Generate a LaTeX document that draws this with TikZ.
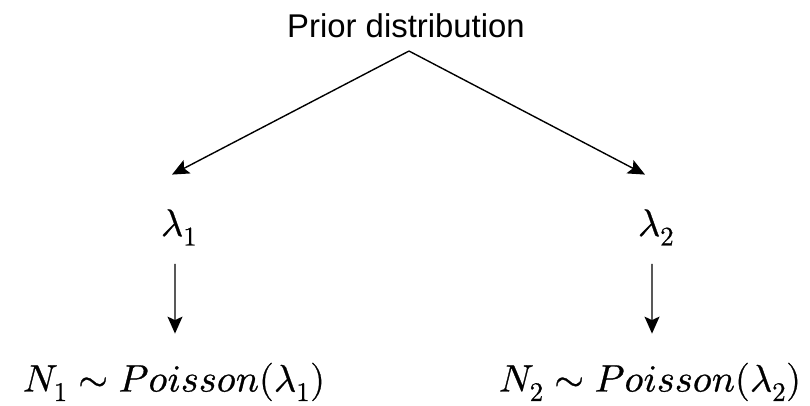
\documentclass[tikz,border=0pt]{standalone}
\usepackage{fontspec}
\usepackage{unicode-math}
\setmathfont{latinmodern-math.otf}[FakeBold=0.7]
\newfontfamily\priorfont{Liberation Sans}
\usetikzlibrary{arrows.meta}
\begin{document}
\begin{tikzpicture}[x=1bp,y=-1bp,
  lbl/.style={inner sep=0pt, anchor=base, font=\fontsize{38.5}{46}\selectfont},
  arr/.style={-{Stealth[length=17bp,width=15bp,inset=3.5bp]}, line width=1.4bp}]
\useasboundingbox (0,0) rectangle (810,405);
\node[font=\priorfont\fontsize{33}{40}\selectfont, inner sep=0pt, anchor=base] (prior) at (406,37) {Prior distribution};
\node[lbl] (lam1) at (179,236) {$\lambda_1$};
\node[lbl] (lam2) at (656,236) {$\lambda_2$};
\node[lbl] (n1) at (174,391.5) {$N_1\sim Poisson(\lambda_1)$};
\node[lbl] (n2) at (650,391.5) {$N_2\sim Poisson(\lambda_2)$};
\draw[arr] ([xshift=3bp,yshift=-13.5bp]prior.south) -- ([xshift=-7bp,yshift=34.6bp]lam1.north);
\draw[arr] ([xshift=3bp,yshift=-13.5bp]prior.south) -- ([xshift=-11bp,yshift=34.6bp]lam2.north);
\draw[arr] ([xshift=-4bp,yshift=-18.3bp]lam1.south) -- ([xshift=1bp,yshift=29bp]n1.north);
\draw[arr] ([xshift=-4bp,yshift=-18.3bp]lam2.south) -- ([xshift=2bp,yshift=29bp]n2.north);
\end{tikzpicture}
\end{document}
